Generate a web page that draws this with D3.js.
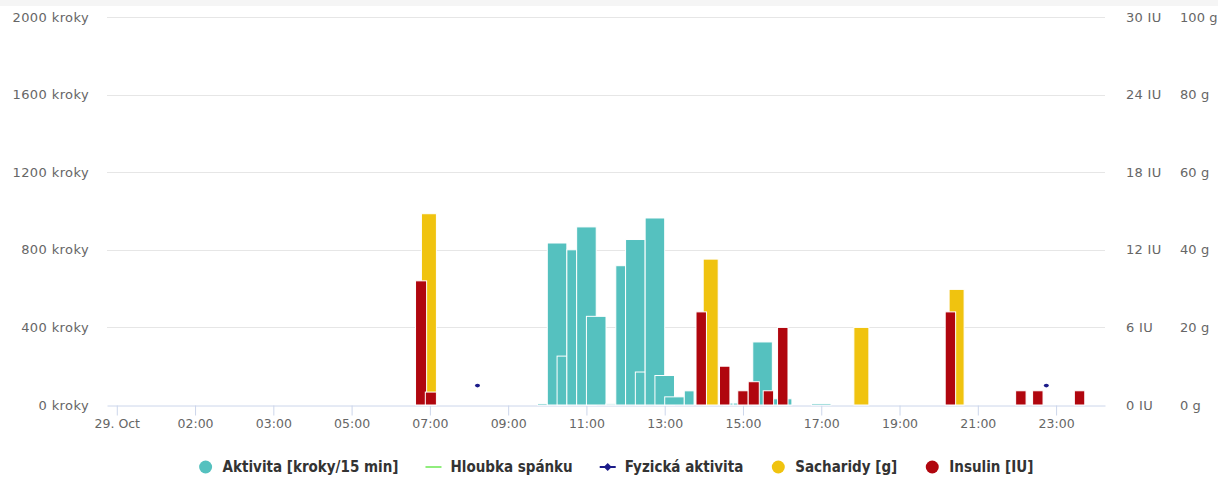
<!DOCTYPE html>
<html>
<head>
<meta charset="utf-8">
<script src="https://cdn.jsdelivr.net/npm/d3@7"></script>
<style>
  html, body { margin: 0; padding: 0; background: #fff; }
  svg { display: block; font-family: "DejaVu Sans", sans-serif; }
</style>
</head>
<body>
<svg id="chart" width="1218" height="479"></svg>
<script>
// ---- data (local times on 29 Oct, DST ends at 03:00 -> 02:00) ----
const xTickLabels = ["29. Oct","02:00","03:00","05:00","07:00","09:00","11:00","13:00","15:00","17:00","19:00","21:00","23:00"];
const leftTicks = [0, 400, 800, 1200, 1600, 2000];
const insulinTicks = [0, 6, 12, 18, 24, 30];
const carbTicks = [0, 20, 40, 60, 80, 100];

// Aktivita [kroky/15 min]: [start, end, steps]
const activity = [
  ["09:45","10:00", 8],
  ["10:00","10:30", 835],
  ["10:15","10:30", 252],
  ["10:30","10:45", 800],
  ["10:45","11:15", 918],
  ["11:00","11:30", 457],
  ["11:30","11:45", 6],
  ["11:45","12:00", 718],
  ["12:00","12:30", 853],
  ["12:15","12:30", 170],
  ["12:30","13:00", 964],
  ["12:45","13:15", 152],
  ["13:00","13:30", 42],
  ["13:30","13:45", 73],
  ["14:30","14:45", 10],
  ["14:45","15:00", 10],
  ["15:15","15:45", 325],
  ["15:45","16:15", 32],
  ["16:45","17:15", 8]
];
// Fyzická aktivita: [time, value]
const physical = [
  ["08:13", 100],
  ["22:45", 100]
];
// Sacharidy [g]: [start, end, grams]
const carbs = [
  ["06:47","07:10", 49.3],
  ["13:59","14:22", 37.6],
  ["17:50","18:13", 20],
  ["20:16","20:39", 29.8]
];
// Insulin [IU]: [start, end, units]
const insulin = [
  ["06:38","06:55", 9.6],
  ["06:53","07:10", 1],
  ["13:48","14:04", 7.2],
  ["14:24","14:40", 3],
  ["14:52","15:08", 1.1],
  ["15:08","15:25", 1.8],
  ["15:31","15:47", 1.1],
  ["15:53","16:09", 6],
  ["20:10","20:26", 7.2],
  ["21:58","22:14", 1.1],
  ["22:24","22:40", 1.1],
  ["23:28","23:44", 1.1]
];
const legendItems = ["Aktivita [kroky/15 min]", "Hloubka spánku", "Fyzická aktivita", "Sacharidy [g]", "Insulin [IU]"];

// ---- helpers ----
// elapsed real hours since local midnight (clock goes back 1h at 03:00)
function elapsed(t) {
  const [h, m] = t.split(":").map(Number);
  return h + m / 60 + (h >= 3 ? 1 : 0);
}

const W = 1218, H = 479;
const L = 107, R = 1105, T = 17, B = 405;
const colors = { teal: "#55c1bf", green: "#90ed7d", navy: "#1c1c8a", yellow: "#f0c30f", red: "#b0060e" };
const axisFont = "'DejaVu Sans', sans-serif";

const svg = d3.select("#chart");
svg.append("rect").attr("x", 0).attr("y", 0).attr("width", W).attr("height", 6).attr("fill", "#f5f5f5");

const x = d3.scaleLinear().domain([-0.25, 25.25]).range([L, R]);
const yL = d3.scaleLinear().domain([0, 2000]).range([B, T]);
const yI = d3.scaleLinear().domain([0, 30]).range([B, T]);
const yC = d3.scaleLinear().domain([0, 100]).range([B, T]);

// grid
svg.append("g").selectAll("line").data(leftTicks.slice(1)).join("line")
  .attr("x1", L).attr("x2", R)
  .attr("y1", d => Math.round(yL(d)) + 0.5).attr("y2", d => Math.round(yL(d)) + 0.5)
  .attr("stroke", "#e6e6e6").attr("stroke-width", 1);

function styleAxisText(g, size, spacing) {
  g.selectAll("text").attr("fill", "#666").style("font-size", size + "px")
    .style("font-family", axisFont).style("letter-spacing", spacing + "px");
}

// left axis
const gl = svg.append("g").attr("transform", `translate(${L},0)`)
  .call(d3.axisLeft(yL).tickValues(leftTicks).tickFormat(d => d + " kroky").tickSize(0).tickPadding(18));
gl.select(".domain").remove();
styleAxisText(gl, 13, 0.4);

// right axes
const gi = svg.append("g").attr("transform", `translate(${R},0)`)
  .call(d3.axisRight(yI).tickValues(insulinTicks).tickFormat(d => d + " IU").tickSize(0).tickPadding(21));
gi.select(".domain").remove();
styleAxisText(gi, 13, 0.3);
const gc = svg.append("g").attr("transform", `translate(${R},0)`)
  .call(d3.axisRight(yC).tickValues(carbTicks).tickFormat(d => d + " g").tickSize(0).tickPadding(75));
gc.select(".domain").remove();
styleAxisText(gc, 13, 0.1);

// x axis
const xTickVals = xTickLabels.map((d, i) => i * 2);
const gx = svg.append("g").attr("transform", `translate(0,${B + 0.5})`)
  .call(d3.axisBottom(x).tickValues(xTickVals).tickFormat((d, i) => xTickLabels[i]).tickSize(10).tickPadding(4).tickSizeOuter(0));
gx.select(".domain").attr("stroke", "#ccd6eb");
gx.selectAll(".tick line").attr("stroke", "#ccd6eb");
styleAxisText(gx, 12.5, 0);

// bars
function drawBars(data, yScale, color) {
  svg.append("g").selectAll("rect").data(data).join("rect")
    .attr("x", d => x(elapsed(d[0])))
    .attr("width", d => x(elapsed(d[1])) - x(elapsed(d[0])))
    .attr("y", d => yScale(d[2]))
    .attr("height", d => B - yScale(d[2]))
    .attr("fill", color)
    .attr("stroke", "#fff").attr("stroke-width", 1);
}
drawBars(activity, yL, colors.teal);
// physical activity points
svg.append("g").selectAll("ellipse").data(physical).join("ellipse")
  .attr("cx", d => x(elapsed(d[0]))).attr("cy", d => yL(d[1]))
  .attr("rx", 2.5).attr("ry", 1.8).attr("fill", colors.navy);
drawBars(carbs, yC, colors.yellow);
drawBars(insulin, yI, colors.red);

// legend
const lg = svg.append("g");
const items = lg.selectAll("g").data(legendItems).join("g");
items.append("text").text(d => d)
  .attr("y", 472).attr("fill", "#333").style("font-size", "15px").style("font-weight", "bold")
  .style("font-family", "'DejaVu Sans Condensed', 'DejaVu Sans', sans-serif")
  .style("font-stretch", "condensed");
let cursor = 0;
const pos = [];
items.each(function(d, i) {
  const w = this.querySelector("text").getComputedTextLength();
  pos.push(cursor);
  cursor += 25 + w + 27;
});
const total = cursor - 27;
const start = 615.5 - total / 2;
items.attr("transform", (d, i) => `translate(${start + pos[i]},0)`);
items.select("text").attr("x", 25);
const symY = 467;
items.filter((d, i) => i === 0).append("circle").attr("cx", 8).attr("cy", symY).attr("r", 6.5).attr("fill", colors.teal);
items.filter((d, i) => i === 1).append("line").attr("x1", 0).attr("x2", 16).attr("y1", symY).attr("y2", symY).attr("stroke", colors.green).attr("stroke-width", 2);
const fy = items.filter((d, i) => i === 2);
fy.append("line").attr("x1", 0).attr("x2", 16).attr("y1", symY).attr("y2", symY).attr("stroke", colors.navy).attr("stroke-width", 2);
fy.append("path").attr("d", `M8,${symY - 4}L12,${symY}L8,${symY + 4}L4,${symY}Z`).attr("fill", colors.navy);
items.filter((d, i) => i === 3).append("circle").attr("cx", 8).attr("cy", symY).attr("r", 6.5).attr("fill", colors.yellow);
items.filter((d, i) => i === 4).append("circle").attr("cx", 8).attr("cy", symY).attr("r", 6.5).attr("fill", colors.red);
</script>
</body>
</html>
